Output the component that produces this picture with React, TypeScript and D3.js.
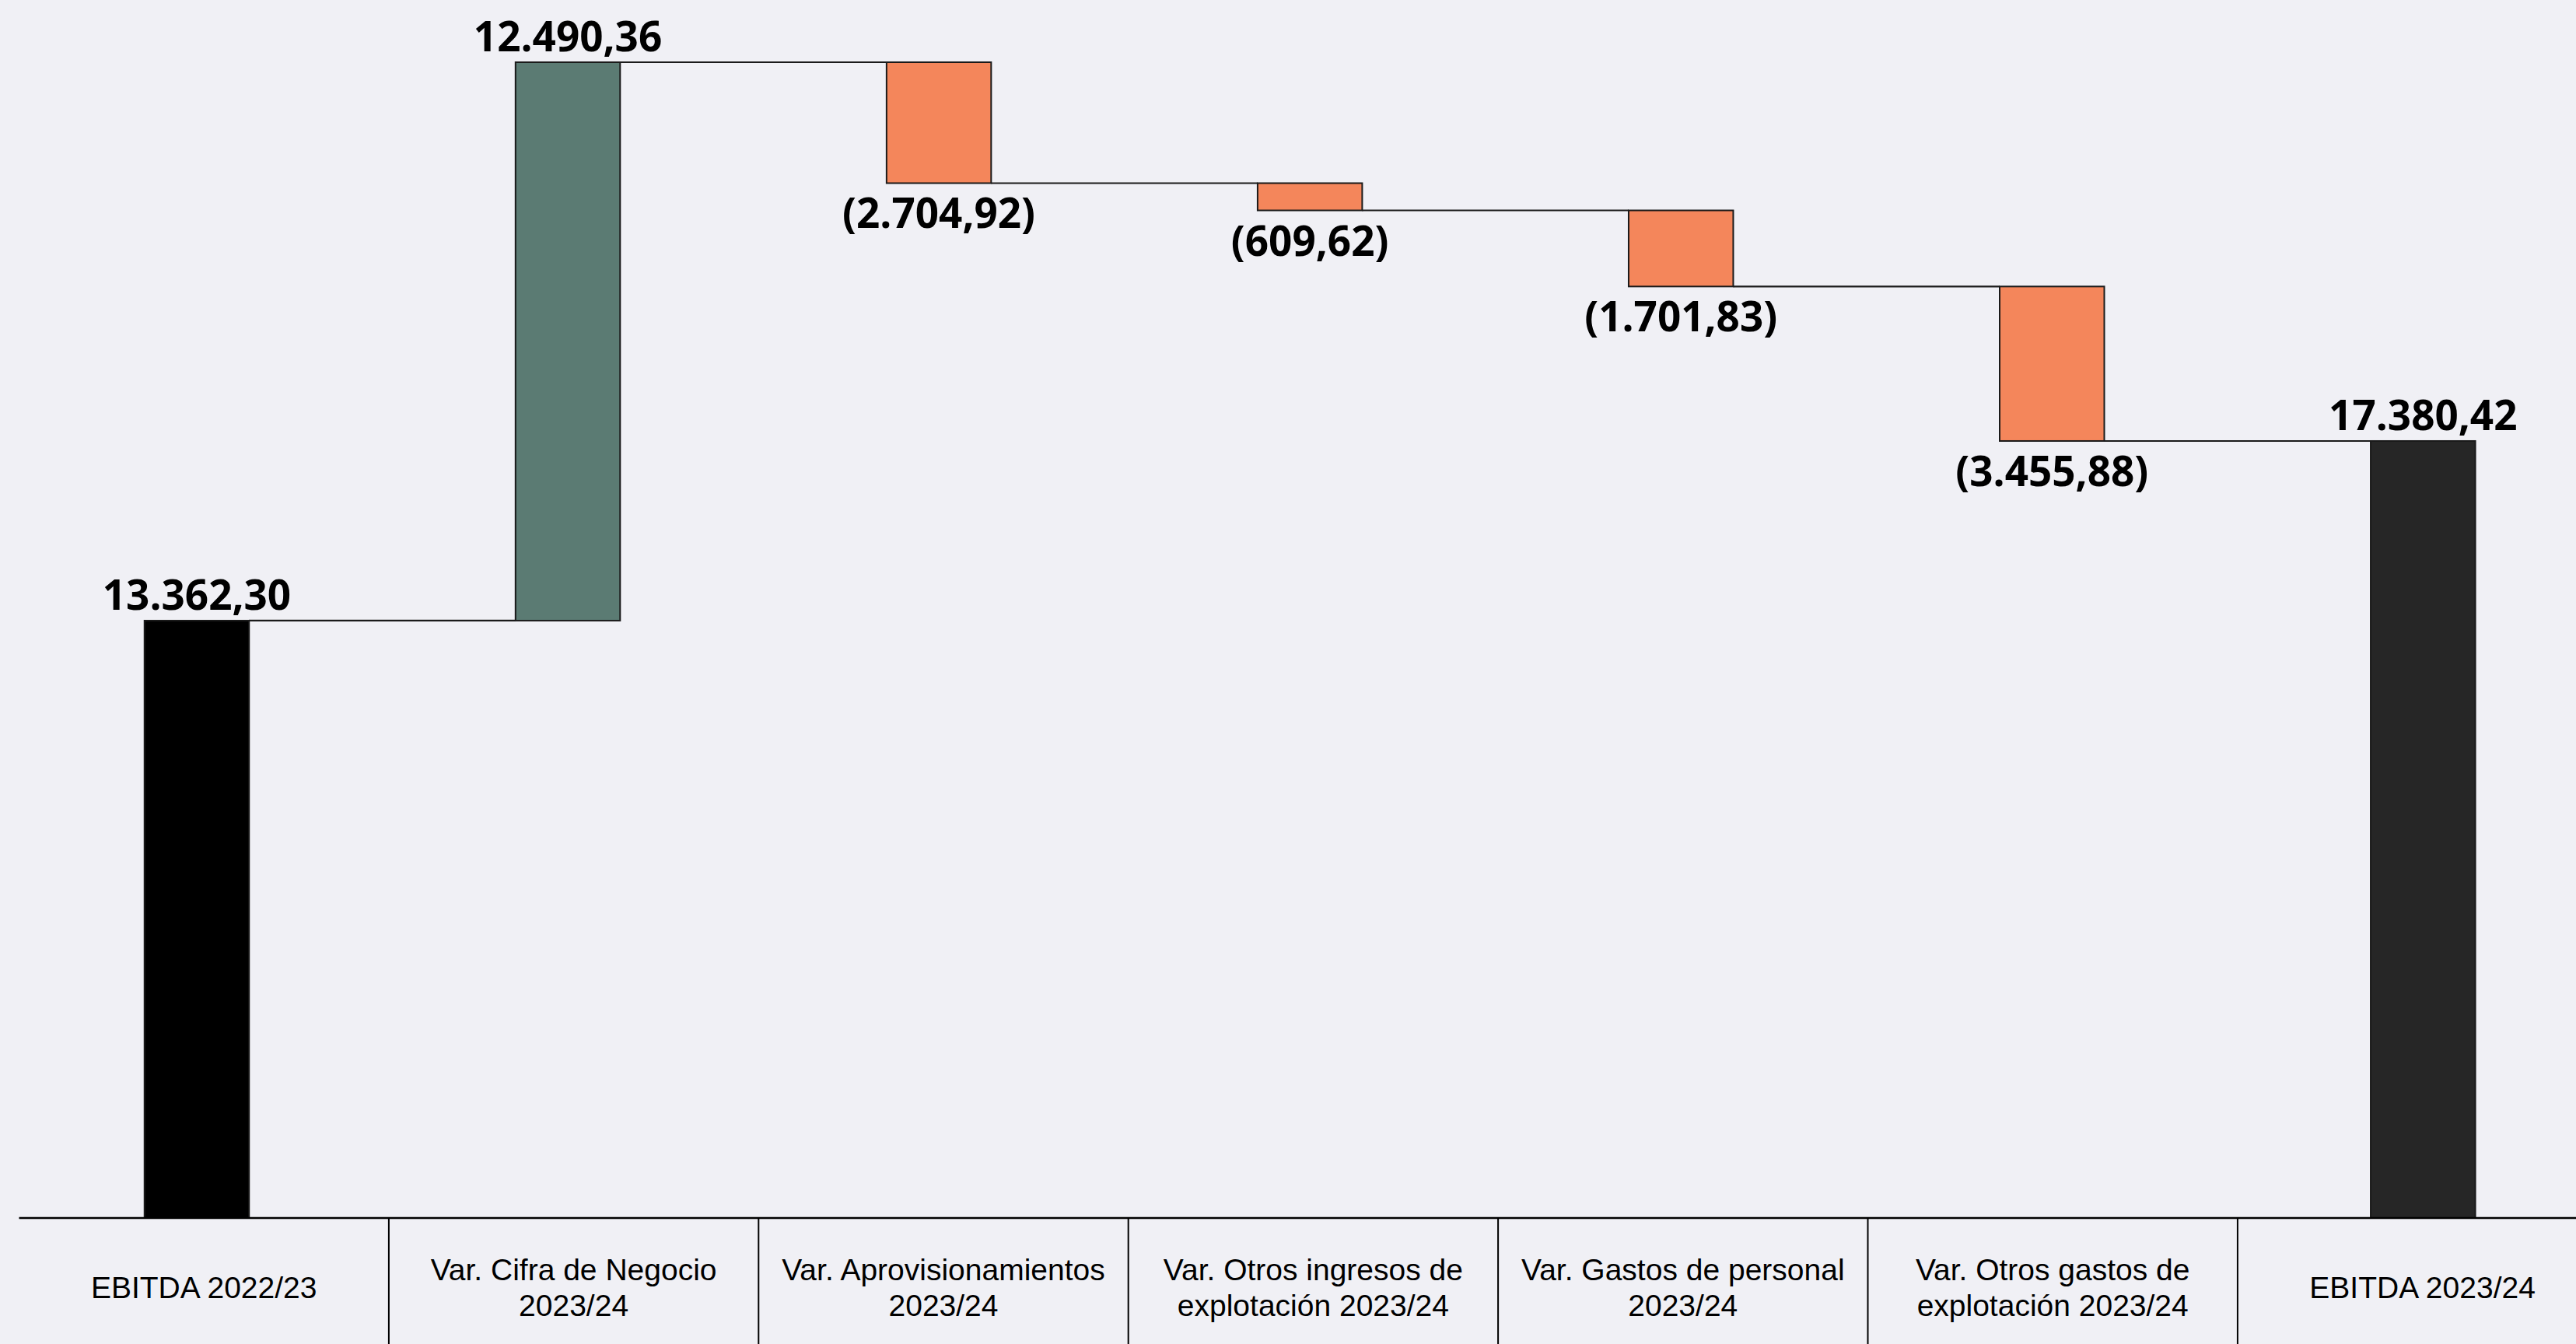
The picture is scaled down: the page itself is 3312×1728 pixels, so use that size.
import React from "react";
import * as d3 from "d3";

const categories: string[][] = [
  ["EBITDA 2022/23"],
  ["Var. Cifra de Negocio", "2023/24"],
  ["Var. Aprovisionamientos", "2023/24"],
  ["Var. Otros ingresos de", "explotación 2023/24"],
  ["Var. Gastos de personal", "2023/24"],
  ["Var. Otros gastos de", "explotación 2023/24"],
  ["EBITDA 2023/24"],
];
const values: number[] = [13362.3, 12490.36, -2704.92, -609.62, -1701.83, -3455.88, 17380.42];
const kinds: string[] = ["start", "delta", "delta", "delta", "delta", "delta", "end"];

const W = 3312;
const H = 1728;
const BG = "#F0F0F5";
const colorOf = (kind: string, v: number) =>
  kind === "start" ? "#000000" : kind === "end" ? "#262626" : v >= 0 ? "#5B7B73" : "#F4865B";

const locale = d3.formatLocale({ decimal: ",", thousands: ".", grouping: [3], currency: ["", "€"] });
const fmt = locale.format(",.2f");
const labelOf = (v: number) => (v < 0 ? `(${fmt(-v)})` : fmt(v));

export default function App() {
  let run = 0;
  const segs = values.map((v, i) => {
    const k = kinds[i];
    let y0: number, y1: number;
    if (k === "start" || k === "end") {
      y0 = 0;
      y1 = v;
      run = v;
    } else {
      y0 = run;
      y1 = run + v;
      run = y1;
    }
    return { i, v, k, y0, y1, after: run };
  });
  const maxV = d3.max(segs, (s) => Math.max(s.y0, s.y1)) as number;

  const keys = categories.map((_, i) => String(i));
  const step = 477.05;
  const barW = 134.5;
  const pad = 1 - barW / step;
  const x = d3
    .scaleBand<string>()
    .domain(keys)
    .range([253 - step / 2, 253 - step / 2 + step * keys.length])
    .paddingInner(pad)
    .paddingOuter(pad / 2);
  const xl = d3.scaleBand<string>().domain(keys).range([24.5, 24.5 + 475.4 * keys.length]);
  const y = d3.scaleLinear().domain([0, maxV]).range([1566, 80]);

  const bw = x.bandwidth();

  return (
    <svg
      width={W}
      height={H}
      style={{ position: "absolute", left: 0, top: 0, display: "block" }}
      xmlns="http://www.w3.org/2000/svg"
    >
      <rect x={0} y={0} width={W} height={H} fill={BG} />
      {segs.slice(0, -1).map((s) => {
        const x1 = (x(String(s.i)) as number) + bw;
        const x2 = x(String(s.i + 1)) as number;
        return (
          <line
            key={"c" + s.i}
            x1={x1}
            x2={x2}
            y1={y(s.after)}
            y2={y(s.after)}
            stroke="#1a1a1a"
            strokeWidth={2.2}
          />
        );
      })}
      {segs.map((s) => {
        const top = y(Math.max(s.y0, s.y1));
        const bot = y(Math.min(s.y0, s.y1));
        return (
          <rect
            key={"b" + s.i}
            x={x(String(s.i))}
            y={top}
            width={bw}
            height={bot - top}
            fill={colorOf(s.k, s.v)}
            stroke="#1a1a1a"
            strokeWidth={2}
          />
        );
      })}
      {segs.map((s) => {
        const cx = (x(String(s.i)) as number) + bw / 2;
        const neg = s.k === "delta" && s.v < 0;
        const yy = neg ? y(s.y1) + 58 : y(Math.max(s.y0, s.y1)) - 14;
        return (
          <text
            key={"l" + s.i}
            x={cx}
            y={yy}
            textAnchor="middle"
            fontFamily="'Open Sans', 'Noto Sans', sans-serif"
            fontWeight={700}
            fontSize={53}
            fill="#000"
          >
            {labelOf(s.v)}
          </text>
        );
      })}
      <line x1={24.5} x2={W} y1={1566} y2={1566} stroke="#000" strokeWidth={2.6} />
      {keys.slice(1).map((k) => (
        <line
          key={"d" + k}
          x1={xl(k)}
          x2={xl(k)}
          y1={1566}
          y2={H}
          stroke="#000"
          strokeWidth={2}
        />
      ))}
      {categories.map((lines, i) => {
        const cx = (xl(String(i)) as number) + xl.bandwidth() / 2;
        const base = lines.length === 1 ? [1669] : [1646, 1692];
        return (
          <text
            key={"t" + i}
            textAnchor="middle"
            fontFamily="'Liberation Sans', Arial, sans-serif"
            fontSize={39}
            fill="#000"
          >
            {lines.map((ln, j) => (
              <tspan key={j} x={cx} y={base[j]}>
                {ln}
              </tspan>
            ))}
          </text>
        );
      })}
    </svg>
  );
}
